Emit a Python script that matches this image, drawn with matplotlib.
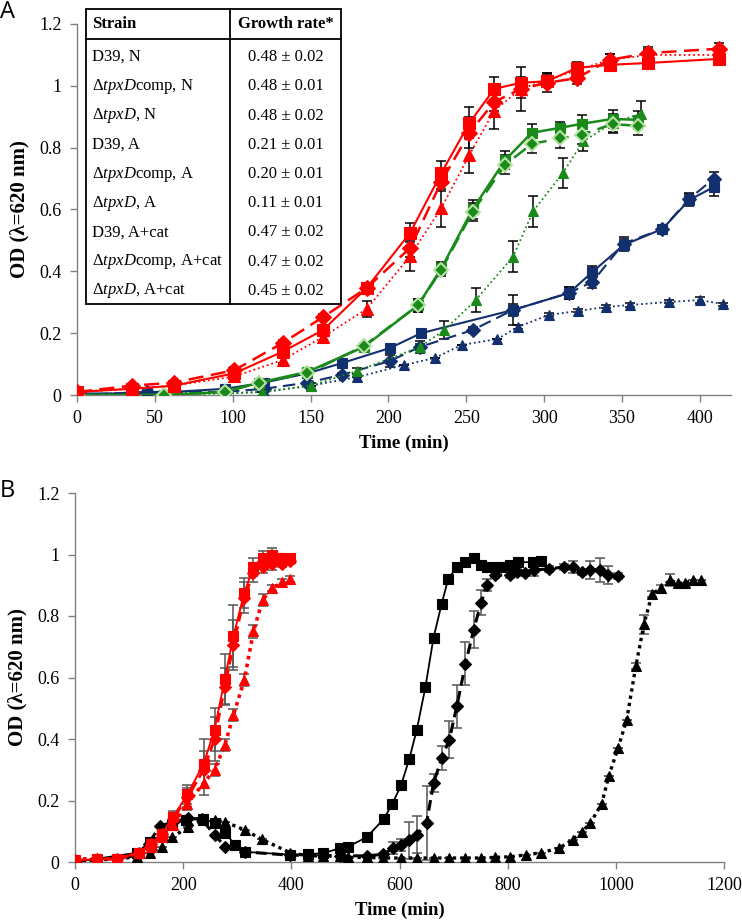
import matplotlib
matplotlib.use("Agg")
import matplotlib.pyplot as plt
from matplotlib.patches import Rectangle
from matplotlib.lines import Line2D
import numpy as np

plt.rcParams['font.family'] = ['Liberation Serif', 'DejaVu Serif']
plt.rcParams['mathtext.fontset'] = 'custom'
plt.rcParams['mathtext.rm'] = 'Liberation Serif'
plt.rcParams['mathtext.it'] = 'Liberation Serif:italic'
plt.rcParams['mathtext.bf'] = 'Liberation Serif:bold'

# ---------------- Panel A data ----------------
tA_red = [0, 35, 62, 101, 132, 158, 186, 214, 234, 252, 268, 285, 302, 321, 342, 367, 412]
A_red_sq = [0.01, 0.02, 0.03, 0.07, 0.14, 0.21, 0.346, 0.525, 0.718, 0.88, 0.99, 1.01, 1.015, 1.058, 1.068, 1.074, 1.087]
A_red_sq_e = [0, 0, 0, 0.01, 0.01, 0.01, 0.015, 0.03, 0.04, 0.05, 0.04, 0.02, 0.02, 0.02, 0.02, 0.01, 0.02]
A_red_di = [0.01, 0.03, 0.04, 0.08, 0.168, 0.252, 0.346, 0.476, 0.69, 0.848, 0.948, 0.99, 1.01, 1.025, 1.084, 1.106, 1.12]
A_red_di_e = [0, 0, 0, 0.01, 0.01, 0.01, 0.01, 0.03, 0.03, 0.05, 0.03, 0.07, 0.03, 0.02, 0.02, 0.02, 0.02]
A_red_tr = [0.01, 0.02, 0.03, 0.06, 0.113, 0.188, 0.278, 0.45, 0.605, 0.777, 0.92, 0.99, 1.02, 1.05, 1.084, 1.10, 1.10]
A_red_tr_e = [0, 0, 0, 0.01, 0.01, 0.02, 0.025, 0.05, 0.06, 0.06, 0.06, 0.03, 0.02, 0.02, 0.02, 0.02, 0.02]

tA_grn = [0, 56, 95, 117, 148, 184, 219, 234, 254, 275, 292, 310, 324, 344, 360]
A_grn_sq = [0, 0, 0.01, 0.04, 0.075, 0.155, 0.29, 0.41, 0.60, 0.76, 0.848, 0.864, 0.877, 0.893, 0.89]
A_grn_sq_e = [0, 0, 0, 0, 0.01, 0.01, 0.02, 0.02, 0.03, 0.03, 0.03, 0.02, 0.03, 0.03, 0.03]
A_grn_di = [0, 0, 0.01, 0.04, 0.07, 0.158, 0.29, 0.405, 0.592, 0.745, 0.812, 0.83, 0.841, 0.877, 0.87]
A_grn_di_e = [0, 0, 0, 0, 0.01, 0.01, 0.02, 0.02, 0.03, 0.03, 0.03, 0.03, 0.03, 0.03, 0.03]
tA_grn_tr = [0, 56, 95, 119, 150, 180, 220, 236, 256, 280, 293, 312, 325, 344, 362]
A_grn_tr = [0, 0, 0.005, 0.01, 0.03, 0.078, 0.155, 0.21, 0.307, 0.447, 0.595, 0.718, 0.82, 0.88, 0.91]
A_grn_tr_e = [0, 0, 0, 0, 0.01, 0.01, 0.02, 0.03, 0.04, 0.05, 0.05, 0.05, 0.03, 0.03, 0.04]

tA_nav_sq = [0, 45, 95, 120, 148, 170, 201, 221, 280, 316, 331, 351, 376, 393, 409]
A_nav_sq = [0.005, 0.005, 0.02, 0.04, 0.07, 0.103, 0.152, 0.2, 0.275, 0.33, 0.398, 0.485, 0.537, 0.63, 0.673]
A_nav_sq_e = [0, 0, 0, 0, 0, 0.005, 0.01, 0.01, 0.05, 0.02, 0.02, 0.02, 0.01, 0.02, 0.03]
tA_nav_di = [0, 45, 95, 120, 148, 170, 201, 220, 254, 280, 316, 331, 351, 376, 393, 409]
A_nav_di = [0, 0.01, 0.01, 0.02, 0.04, 0.065, 0.11, 0.155, 0.21, 0.275, 0.33, 0.366, 0.49, 0.537, 0.634, 0.70]
A_nav_di_e = [0, 0, 0, 0, 0, 0.005, 0.02, 0.01, 0.01, 0.02, 0.02, 0.02, 0.02, 0.01, 0.02, 0.02]
tA_nav_tr = [0, 45, 95, 120, 150, 180, 210, 230, 247, 270, 283, 303, 322, 340, 355, 380, 400, 415]
A_nav_tr = [0, 0.01, 0.005, 0.01, 0.03, 0.058, 0.097, 0.12, 0.162, 0.181, 0.22, 0.259, 0.272, 0.285, 0.291, 0.301, 0.307, 0.294]
A_nav_tr_e = [0, 0, 0, 0, 0, 0, 0, 0, 0, 0, 0.005, 0.005, 0.005, 0.005, 0.005, 0.005, 0.01, 0.005]

# Table
tbl_strain = ['D39, N', r'$\Delta\mathit{tpxD}$comp, N', r'$\Delta\mathit{tpxD}$, N',
              'D39, A', r'$\Delta\mathit{tpxD}$comp, A', r'$\Delta\mathit{tpxD}$, A',
              'D39, A+cat', r'$\Delta\mathit{tpxD}$comp, A+cat', r'$\Delta\mathit{tpxD}$, A+cat']
tbl_rate = ['0.48 ± 0.02', '0.48 ± 0.01', '0.48 ± 0.02', '0.21 ± 0.01', '0.20 ± 0.01',
            '0.11 ± 0.01', '0.47 ± 0.02', '0.47 ± 0.02', '0.45 ± 0.02']

# ---------------- Panel B data ----------------
tB_red = [0, 40, 78, 118, 140, 160, 181, 208, 238, 258, 277, 293, 313, 330, 347, 365, 383, 397]
B_red_sq = [0.005, 0.01, 0.01, 0.03, 0.06, 0.09, 0.146, 0.22, 0.32, 0.43, 0.595, 0.735, 0.875, 0.96, 0.99, 1.0, 0.99, 0.99]
B_red_sq_e = [0, 0, 0, 0, 0, 0.01, 0.02, 0.03, 0.08, 0.07, 0.08, 0.1, 0.05, 0.03, 0.02, 0.02, 0.01, 0.01]
B_red_di = [0.005, 0.01, 0.01, 0.03, 0.06, 0.09, 0.14, 0.21, 0.30, 0.40, 0.57, 0.706, 0.86, 0.94, 0.96, 0.97, 0.97, 0.98]
B_red_di_e = [0, 0, 0, 0, 0, 0.01, 0.02, 0.03, 0.06, 0.07, 0.06, 0.08, 0.05, 0.03, 0.02, 0.02, 0.01, 0.01]
B_red_tr = [0.01, 0.01, 0.01, 0.03, 0.05, 0.08, 0.12, 0.19, 0.257, 0.30, 0.38, 0.478, 0.592, 0.75, 0.853, 0.89, 0.91, 0.92]
B_red_tr_e = [0, 0, 0, 0, 0, 0, 0.01, 0.02, 0.04, 0.02, 0.02, 0.02, 0.02, 0.02, 0.02, 0.01, 0.01, 0.01]

tB_blk_sq = [0, 114, 139, 160, 179, 205, 236, 259, 278, 296, 314, 398, 431, 458, 490, 505, 539, 571, 587,
             603, 618, 632, 648, 663, 678, 690, 706, 721, 737, 750, 761, 776, 789, 804, 819, 847, 861]
B_blk_sq = [0, 0.03, 0.065, 0.088, 0.12, 0.137, 0.14, 0.127, 0.095, 0.055, 0.033, 0.024, 0.026, 0.028, 0.045,
            0.05, 0.08, 0.14, 0.19, 0.25, 0.335, 0.43, 0.57, 0.73, 0.84, 0.92, 0.96, 0.975, 0.99, 0.965, 0.96,
            0.96, 0.96, 0.965, 0.975, 0.975, 0.98]

tB_blk_di = [0, 114, 136, 157, 182, 209, 234, 258, 278, 314, 398, 431, 458, 490, 539, 570, 588, 603, 618, 632,
             650, 663, 678, 692, 706, 722, 737, 751, 761, 776, 804, 818, 832, 849, 877, 905, 920, 937, 953, 970,
             985, 1004]
B_blk_di = [0, 0.02, 0.06, 0.117, 0.13, 0.142, 0.14, 0.088, 0.05, 0.033, 0.022, 0.022, 0.022, 0.02, 0.02,
            0.025, 0.045, 0.055, 0.07, 0.088, 0.127, 0.257, 0.338, 0.397, 0.507, 0.644, 0.755, 0.843, 0.9,
            0.933, 0.933, 0.943, 0.94, 0.95, 0.953, 0.96, 0.96, 0.943, 0.95, 0.95, 0.933, 0.93]
B_blk_di_e = [0, 0, 0, 0, 0, 0, 0, 0, 0, 0, 0, 0, 0, 0, 0, 0, 0.02, 0.02, 0.06, 0.06, 0.12, 0.03, 0.04, 0.06,
              0.07, 0.07, 0.06, 0.04, 0.02, 0.01, 0.01, 0.01, 0.01, 0.02, 0.01, 0.01, 0.02, 0.01, 0.03, 0.04,
              0.03, 0.01]

tB_blk_tr = [0, 114, 139, 160, 179, 209, 236, 259, 278, 314, 345, 398, 431, 458, 490, 505, 539, 570, 603, 632,
             663, 692, 722, 750, 776, 804, 834, 861, 895, 920, 937, 953, 974, 987, 1004, 1020, 1037, 1052,
             1067, 1083, 1100, 1115, 1128, 1143, 1157]
B_blk_tr = [0, 0.016, 0.03, 0.05, 0.08, 0.113, 0.137, 0.137, 0.13, 0.104, 0.074, 0.03, 0.02, 0.02, 0.018,
            0.015, 0.015, 0.013, 0.013, 0.013, 0.013, 0.013, 0.013, 0.013, 0.015, 0.017, 0.023, 0.03, 0.045,
            0.072, 0.098, 0.127, 0.19, 0.28, 0.37, 0.462, 0.637, 0.773, 0.872, 0.89, 0.917, 0.907, 0.907,
            0.917, 0.917]
B_blk_tr_e = [0] * 36 + [0.01, 0.03, 0.01, 0.01, 0.02, 0.0, 0.0, 0.0, 0.0]

# ---------------- Figure ----------------
W, H = 742, 921
fig = plt.figure(figsize=(W / 100, H / 100), dpi=100)

def X(px):
    return px / W

def Y(py):
    return 1 - py / H

RED = '#FF0000'
GRN = '#1A8A1A'
GRN_EDGE = '#B7E2A4'
NAV = '#13306E'
SPINE = '#808080'

axA = fig.add_axes([X(77), Y(395), X(731) - X(77), Y(24) - Y(395)])
axB = fig.add_axes([X(75), Y(862), X(724) - X(75), Y(493) - Y(862)])

def style_axis(ax, xmax, xticks):
    for s in ['top', 'right']:
        ax.spines[s].set_visible(False)
    for s in ['left', 'bottom']:
        ax.spines[s].set_color(SPINE)
        ax.spines[s].set_linewidth(1.0)
    ax.set_ylim(0, 1.2)
    ax.set_xlim(0, xmax)
    ax.set_yticks([0, 0.2, 0.4, 0.6, 0.8, 1.0, 1.2])
    ax.set_yticklabels(['0', '0.2', '0.4', '0.6', '0.8', '1', '1.2'])
    ax.set_xticks(xticks)
    ax.tick_params(direction='out', length=5, width=1, color=SPINE, labelsize=13, pad=6)
    ax.set_xlabel('Time (min)', fontsize=13.5, fontweight='bold', labelpad=5)
    ax.set_ylabel('OD (λ=620 nm)', fontsize=15, fontweight='bold', labelpad=7)
    ax.patch.set_alpha(0)

style_axis(axA, 420, list(range(0, 401, 50)))
style_axis(axB, 1200, list(range(0, 1201, 200)))

def series(ax, t, y, e, color, marker, ls, lw, ms, mec=None, mew=0.8, ecolor='black', z=3):
    if e is not None:
        ax.errorbar(t, y, yerr=e, fmt='none', ecolor=ecolor, elinewidth=1.1, capsize=3.5, capthick=1.1, zorder=z - 1)
    ax.plot(t, y, color=color, linestyle=ls, linewidth=lw, marker=marker, markersize=ms,
            markerfacecolor=color, markeredgecolor=mec if mec else color, markeredgewidth=mew, zorder=z)

DASH = (0, (6, 3))
DOT = (0, (1, 1.6))

# Panel A
series(axA, tA_nav_tr, A_nav_tr, A_nav_tr_e, NAV, '^', DOT, 1.3, 7)
series(axA, tA_nav_di, A_nav_di, A_nav_di_e, NAV, 'D', DASH, 1.5, 7.5)
series(axA, tA_nav_sq, A_nav_sq, A_nav_sq_e, NAV, 's', '-', 1.5, 7.5)
series(axA, tA_grn_tr, A_grn_tr, A_grn_tr_e, GRN, '^', DOT, 1.3, 7.5)
series(axA, tA_grn, A_grn_sq, A_grn_sq_e, GRN, 's', '-', 1.8, 7.5)
series(axA, tA_grn, A_grn_di, A_grn_di_e, GRN, 'D', DASH, 1.8, 7.5, mec=GRN_EDGE, mew=1.5)
series(axA, tA_red, A_red_tr, A_red_tr_e, RED, '^', DOT, 1.3, 8)
series(axA, tA_red, A_red_di, A_red_di_e, RED, 'D', DASH, 1.8, 8)
series(axA, tA_red, A_red_sq, A_red_sq_e, RED, 's', '-', 1.5, 8)

# Panel B
GRAY_E = '#555555'
series(axB, tB_blk_tr, B_blk_tr, B_blk_tr_e, 'black', '^', (0, (1, 1.2)), 2.4, 6.5, ecolor=GRAY_E)
series(axB, tB_blk_di, B_blk_di, B_blk_di_e, 'black', 'D', (0, (3.5, 1.8)), 2.2, 6, ecolor=GRAY_E)
series(axB, tB_blk_sq, B_blk_sq, None, 'black', 's', '-', 1.3, 6.5)
series(axB, tB_red, B_red_tr, B_red_tr_e, RED, '^', (0, (1, 1.2)), 2.6, 6.5, ecolor=GRAY_E)
series(axB, tB_red, B_red_di, B_red_di_e, RED, 'D', (0, (3.5, 1.8)), 2.0, 6, ecolor=GRAY_E)
series(axB, tB_red, B_red_sq, B_red_sq_e, RED, 's', '-', 1.4, 7, ecolor=GRAY_E)

# Panel letters
fig.text(X(0), Y(12), 'A', fontsize=17, family='Open Sans', va='center', ha='left')
fig.text(X(0), Y(491), 'B', fontsize=17, family='Open Sans', va='center', ha='left')

# Table
tl, tm, tr = 86, 230, 341
tt, th, tb = 9, 39, 304
fig.patches.append(Rectangle((X(tl), Y(tb)), X(tr) - X(tl), Y(tt) - Y(tb), transform=fig.transFigure,
                             facecolor='white', edgecolor='black', linewidth=1.3, zorder=5))
fig.lines.append(Line2D([X(tm), X(tm)], [Y(tt), Y(tb)], transform=fig.transFigure, color='black', lw=1.3, zorder=6))
fig.lines.append(Line2D([X(tl), X(tr)], [Y(th), Y(th)], transform=fig.transFigure, color='black', lw=1.3, zorder=6))
fig.text(X(tl + 6), Y(24), 'Strain', fontsize=12, fontweight='bold', va='center', ha='left', zorder=7)
fig.text(X((tm + tr) / 2), Y(24), 'Growth rate*', fontsize=12, fontweight='bold', va='center', ha='center', zorder=7)
row0, row_step = 57, 29.25
for i, (s, r) in enumerate(zip(tbl_strain, tbl_rate)):
    yy = row0 + i * row_step
    fig.text(X(tl + 6), Y(yy), s, fontsize=12, va='center', ha='left', zorder=7)
    fig.text(X((tm + tr) / 2), Y(yy), r, fontsize=12, va='center', ha='center', zorder=7)

fig.savefig('out.png', dpi=100)
